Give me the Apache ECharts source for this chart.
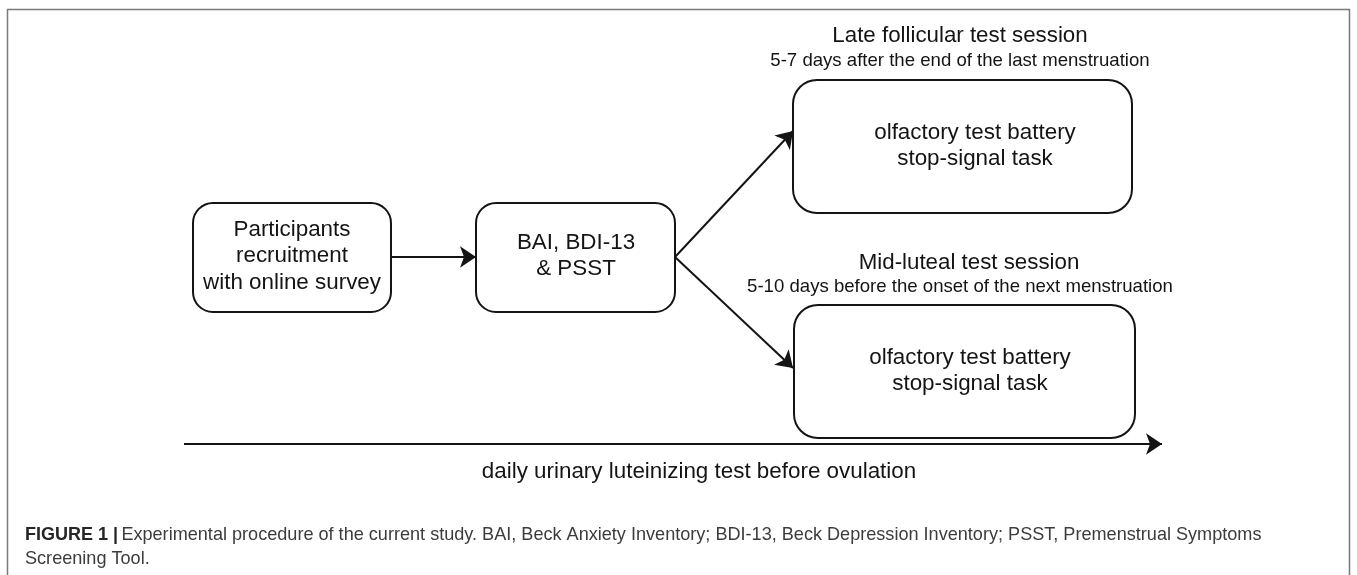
<!DOCTYPE html>
<html><head><meta charset="utf-8">
<script src="https://cdn.jsdelivr.net/npm/echarts@6/dist/echarts.min.js"></script>
<style>html,body{margin:0;padding:0;background:#fff}#c{width:1357px;height:575px}</style>
</head><body><div id="c"></div>
<script>
// ---- content ----
const boxLabels = [
  "Participants\nrecruitment\nwith online survey",
  "BAI, BDI-13\n& PSST",
  "olfactory test battery\nstop-signal task",
  "olfactory test battery\nstop-signal task"
];
const sessionTitles = ["Late follicular test session", "Mid-luteal test session"];
const sessionNotes = ["5-7 days after the end of the last menstruation", "5-10 days before the onset of the next menstruation"];
const timelineLabel = "daily urinary luteinizing test before ovulation";
const captionHead = "FIGURE 1 |";
const captionLines = [
  "Experimental procedure of the current study. BAI, Beck Anxiety Inventory; BDI-13, Beck Depression Inventory; PSST, Premenstrual Symptoms",
  "Screening Tool."
];

// ---- diagram layout (diagram units) ----
const boxRects = [[193,203,391,312],[476,203,675,312],[793,80,1132,213],[794,305,1135,438]];
const boxTextCenters = [[292,256],[576,256],[975,146],[970,371]];
const arrowPaths = [[[391,257],[476,257]],[[675,257],[793,131]],[[675,257],[793,368]],[[184,444],[1162,444]]];
const titlePos = [[960,36],[969,263]];
const notePos = [[960,61],[960,287]];
const timelinePos = [699,472];

const chart = echarts.init(document.getElementById('c'), null, {renderer:'canvas'});
const FONT = '"Liberation Sans", Arial, Helvetica, sans-serif';
const INK = '#141414';

const textItems = [];
sessionTitles.forEach((t,i)=>textItems.push([titlePos[i][0], titlePos[i][1], t, 22.3]));
sessionNotes.forEach((t,i)=>textItems.push([notePos[i][0], notePos[i][1], t, 18.6]));
textItems.push([timelinePos[0], timelinePos[1], timelineLabel, 22.4]);

chart.setOption({
  animation: false,
  backgroundColor: '#fff',
  grid: {left:0, right:0, top:0, bottom:0},
  xAxis: {type:'value', min:0, max:1357, show:false},
  yAxis: {type:'value', min:0, max:575, inverse:true, show:false},
  graphic: [{
    type:'rect', shape:{x:7.5, y:9.5, width:1342, height:580},
    style:{fill:'none', stroke:'#7a7a7a', lineWidth:1.5}, silent:true
  }, {
    type:'text', left:25, top:526,
    style:{
      text: '{b|' + captionHead + '} {n|' + captionLines[0] + '}\n{n|' + captionLines[1] + '}',
      rich:{
        b:{font:'bold 18px ' + FONT, fill:'#262626', lineHeight:24},
        n:{font:'18.1px ' + FONT, fill:'#3c3c3c', lineHeight:24}
      }
    }
  }],
  series: [{
    type:'custom',
    coordinateSystem:'cartesian2d',
    data: boxRects.map((b,i)=>[b[0],b[1],b[2],b[3],i]),
    encode:{x:[0,2], y:[1,3]},
    renderItem:(params, api)=>{
      const i = api.value(4);
      const p0 = api.coord([api.value(0), api.value(1)]);
      const p1 = api.coord([api.value(2), api.value(3)]);
      const c = api.coord(boxTextCenters[i]);
      const r = i < 2 ? 20 : 24;
      return {type:'group', children:[
        {type:'rect', shape:{x:p0[0], y:p0[1], width:p1[0]-p0[0], height:p1[1]-p0[1], r:r},
         style:{fill:'#fff', stroke:INK, lineWidth:2}},
        {type:'text', style:{text:boxLabels[i], x:c[0], y:c[1], align:'center', verticalAlign:'middle',
         font:'22.4px ' + FONT, fill:INK, lineHeight:26.5}}
      ]};
    },
    z:2
  }, {
    type:'lines',
    coordinateSystem:'cartesian2d',
    data: arrowPaths.map(p=>({coords:p})),
    symbol:['none','arrow'],
    symbolSize:16,
    lineStyle:{color:INK, width:2, opacity:1},
    z:1
  }, {
    type:'custom',
    coordinateSystem:'cartesian2d',
    data: textItems.map((t,i)=>[t[0], t[1], i]),
    encode:{x:0, y:1},
    renderItem:(params, api)=>{
      const t = textItems[api.value(2)];
      const p = api.coord([t[0], t[1]]);
      return {type:'text', style:{text:t[2], x:p[0], y:p[1], align:'center', verticalAlign:'middle',
        font:t[3] + 'px ' + FONT, fill:INK}};
    },
    z:3
  }]
});
</script></body></html>
